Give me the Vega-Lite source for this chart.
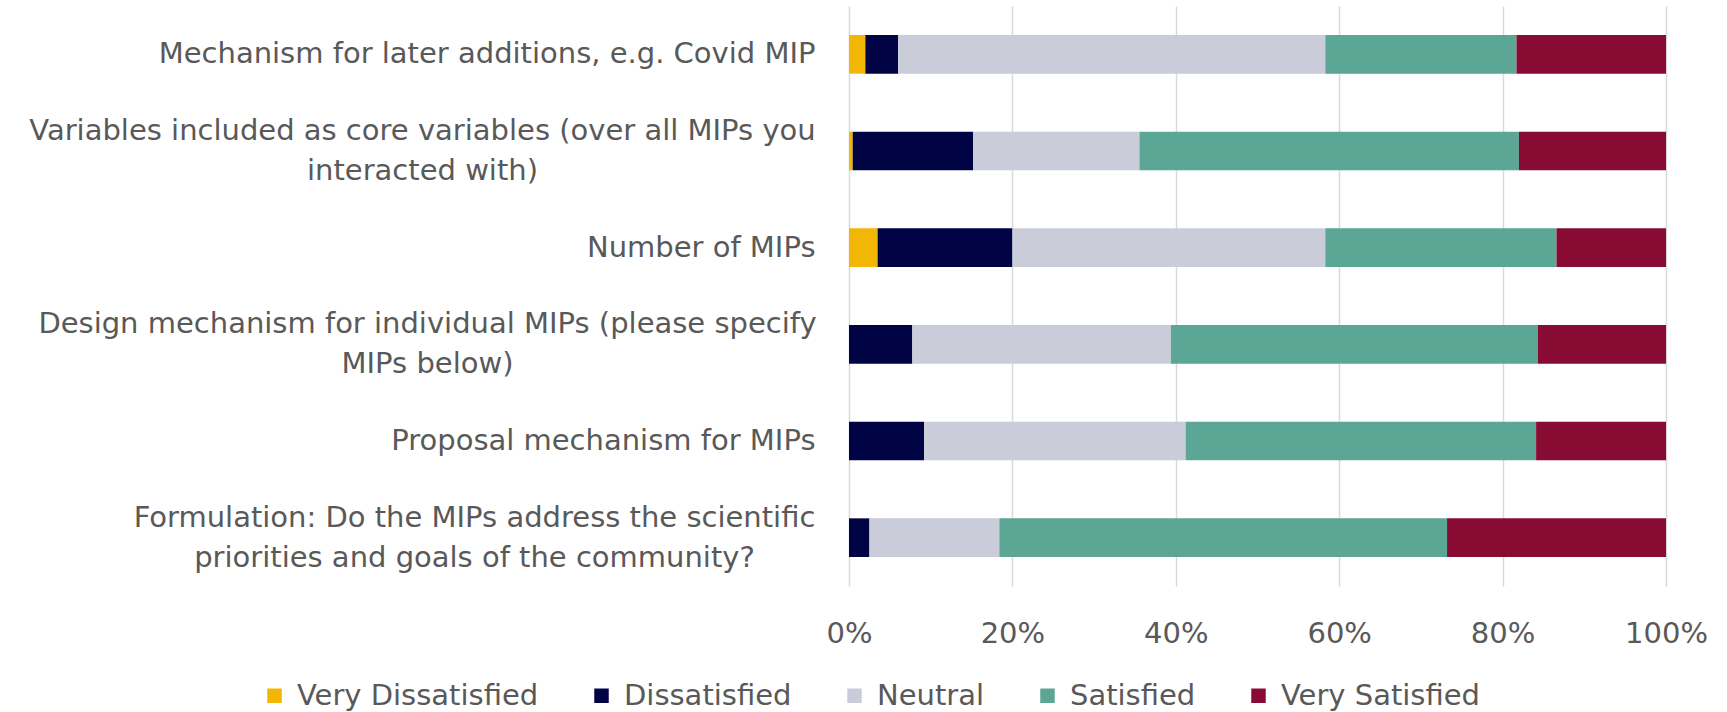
{
  "$schema": "https://vega.github.io/schema/vega-lite/v6.json",
  "autosize": "none",
  "width": 817,
  "height": 580,
  "padding": {"left": 849, "top": 6, "right": 61, "bottom": 126},
  "background": "white",
  "config": {
    "view": {"stroke": null},
    "font": "DejaVu Sans",
    "axis": {"labelFont": "DejaVu Sans", "labelColor": "#595959", "labelFontSize": 29},
    "legend": {"labelFont": "DejaVu Sans", "labelColor": "#595959", "labelFontSize": 29}
  },
  "data": {
    "values": [
      {"item": "Mechanism for later additions, e.g. Covid MIP", "resp": "Very Dissatisfied", "k": 1, "pct": 2.0},
      {"item": "Mechanism for later additions, e.g. Covid MIP", "resp": "Dissatisfied", "k": 2, "pct": 4.0},
      {"item": "Mechanism for later additions, e.g. Covid MIP", "resp": "Neutral", "k": 3, "pct": 52.3},
      {"item": "Mechanism for later additions, e.g. Covid MIP", "resp": "Satisfied", "k": 4, "pct": 23.4},
      {"item": "Mechanism for later additions, e.g. Covid MIP", "resp": "Very Satisfied", "k": 5, "pct": 18.3},
      {"item": "Variables included as core variables (over all MIPs you\ninteracted with)", "resp": "Very Dissatisfied", "k": 1, "pct": 0.45},
      {"item": "Variables included as core variables (over all MIPs you\ninteracted with)", "resp": "Dissatisfied", "k": 2, "pct": 14.75},
      {"item": "Variables included as core variables (over all MIPs you\ninteracted with)", "resp": "Neutral", "k": 3, "pct": 20.35},
      {"item": "Variables included as core variables (over all MIPs you\ninteracted with)", "resp": "Satisfied", "k": 4, "pct": 46.45},
      {"item": "Variables included as core variables (over all MIPs you\ninteracted with)", "resp": "Very Satisfied", "k": 5, "pct": 18.0},
      {"item": "Number of MIPs", "resp": "Very Dissatisfied", "k": 1, "pct": 3.5},
      {"item": "Number of MIPs", "resp": "Dissatisfied", "k": 2, "pct": 16.5},
      {"item": "Number of MIPs", "resp": "Neutral", "k": 3, "pct": 38.3},
      {"item": "Number of MIPs", "resp": "Satisfied", "k": 4, "pct": 28.3},
      {"item": "Number of MIPs", "resp": "Very Satisfied", "k": 5, "pct": 13.4},
      {"item": "Design mechanism for individual MIPs (please specify\nMIPs below)", "resp": "Dissatisfied", "k": 2, "pct": 7.75},
      {"item": "Design mechanism for individual MIPs (please specify\nMIPs below)", "resp": "Neutral", "k": 3, "pct": 31.65},
      {"item": "Design mechanism for individual MIPs (please specify\nMIPs below)", "resp": "Satisfied", "k": 4, "pct": 44.9},
      {"item": "Design mechanism for individual MIPs (please specify\nMIPs below)", "resp": "Very Satisfied", "k": 5, "pct": 15.7},
      {"item": "Proposal mechanism for MIPs", "resp": "Dissatisfied", "k": 2, "pct": 9.2},
      {"item": "Proposal mechanism for MIPs", "resp": "Neutral", "k": 3, "pct": 32.0},
      {"item": "Proposal mechanism for MIPs", "resp": "Satisfied", "k": 4, "pct": 42.9},
      {"item": "Proposal mechanism for MIPs", "resp": "Very Satisfied", "k": 5, "pct": 15.9},
      {"item": "Formulation: Do the MIPs address the scientific\npriorities and goals of the community?", "resp": "Dissatisfied", "k": 2, "pct": 2.5},
      {"item": "Formulation: Do the MIPs address the scientific\npriorities and goals of the community?", "resp": "Neutral", "k": 3, "pct": 15.9},
      {"item": "Formulation: Do the MIPs address the scientific\npriorities and goals of the community?", "resp": "Satisfied", "k": 4, "pct": 54.8},
      {"item": "Formulation: Do the MIPs address the scientific\npriorities and goals of the community?", "resp": "Very Satisfied", "k": 5, "pct": 26.8}
    ]
  },
  "mark": {"type": "bar"},
  "encoding": {
    "y": {
      "field": "item",
      "type": "nominal",
      "sort": null,
      "scale": {"paddingInner": 0.6, "paddingOuter": 0.3},
      "axis": {
        "title": null,
        "domain": false,
        "ticks": false,
        "labelLimit": 900,
        "labelLineHeight": 40,
        "labelExpr": "split(datum.label, '\\n')",
        "labelAlign": {"condition": {"test": "indexof(datum.value, '\\n') >= 0", "value": "center"}, "value": "right"},
        "labelOffset": {"condition": {"test": "indexof(datum.value, '\\n') >= 0", "value": -20}, "value": 0},
        "labelPadding": {
          "condition": [
            {"test": "indexof(datum.value, 'Variables') == 0", "value": 427},
            {"test": "indexof(datum.value, 'Design') == 0", "value": 422},
            {"test": "indexof(datum.value, 'Formulation') == 0", "value": 375}
          ],
          "value": 34
        }
      }
    },
    "x": {
      "field": "pct",
      "type": "quantitative",
      "stack": "normalize",
      "scale": {"domain": [0, 1]},
      "axis": {
        "title": null,
        "format": ".0%",
        "values": [0, 0.2, 0.4, 0.6, 0.8, 1],
        "domain": false,
        "ticks": false,
        "grid": true,
        "gridColor": "#D9D9D9",
        "gridWidth": 1.5,
        "labelPadding": 33,
        "labelFlush": false
      }
    },
    "color": {
      "field": "resp",
      "type": "nominal",
      "scale": {
        "domain": ["Very Dissatisfied", "Dissatisfied", "Neutral", "Satisfied", "Very Satisfied"],
        "range": ["#F2B705", "#000445", "#CBCCDA", "#5CA696", "#880B34"]
      },
      "legend": {
        "title": null,
        "orient": "none",
        "direction": "horizontal",
        "legendX": -589,
        "legendY": 675,
        "symbolType": "square",
        "symbolSize": 210,
        "symbolStrokeWidth": 0,
        "labelOffset": 8,
        "columnPadding": 48,
        "labelLimit": 400
      }
    },
    "order": {"field": "k", "type": "quantitative"}
  }
}
